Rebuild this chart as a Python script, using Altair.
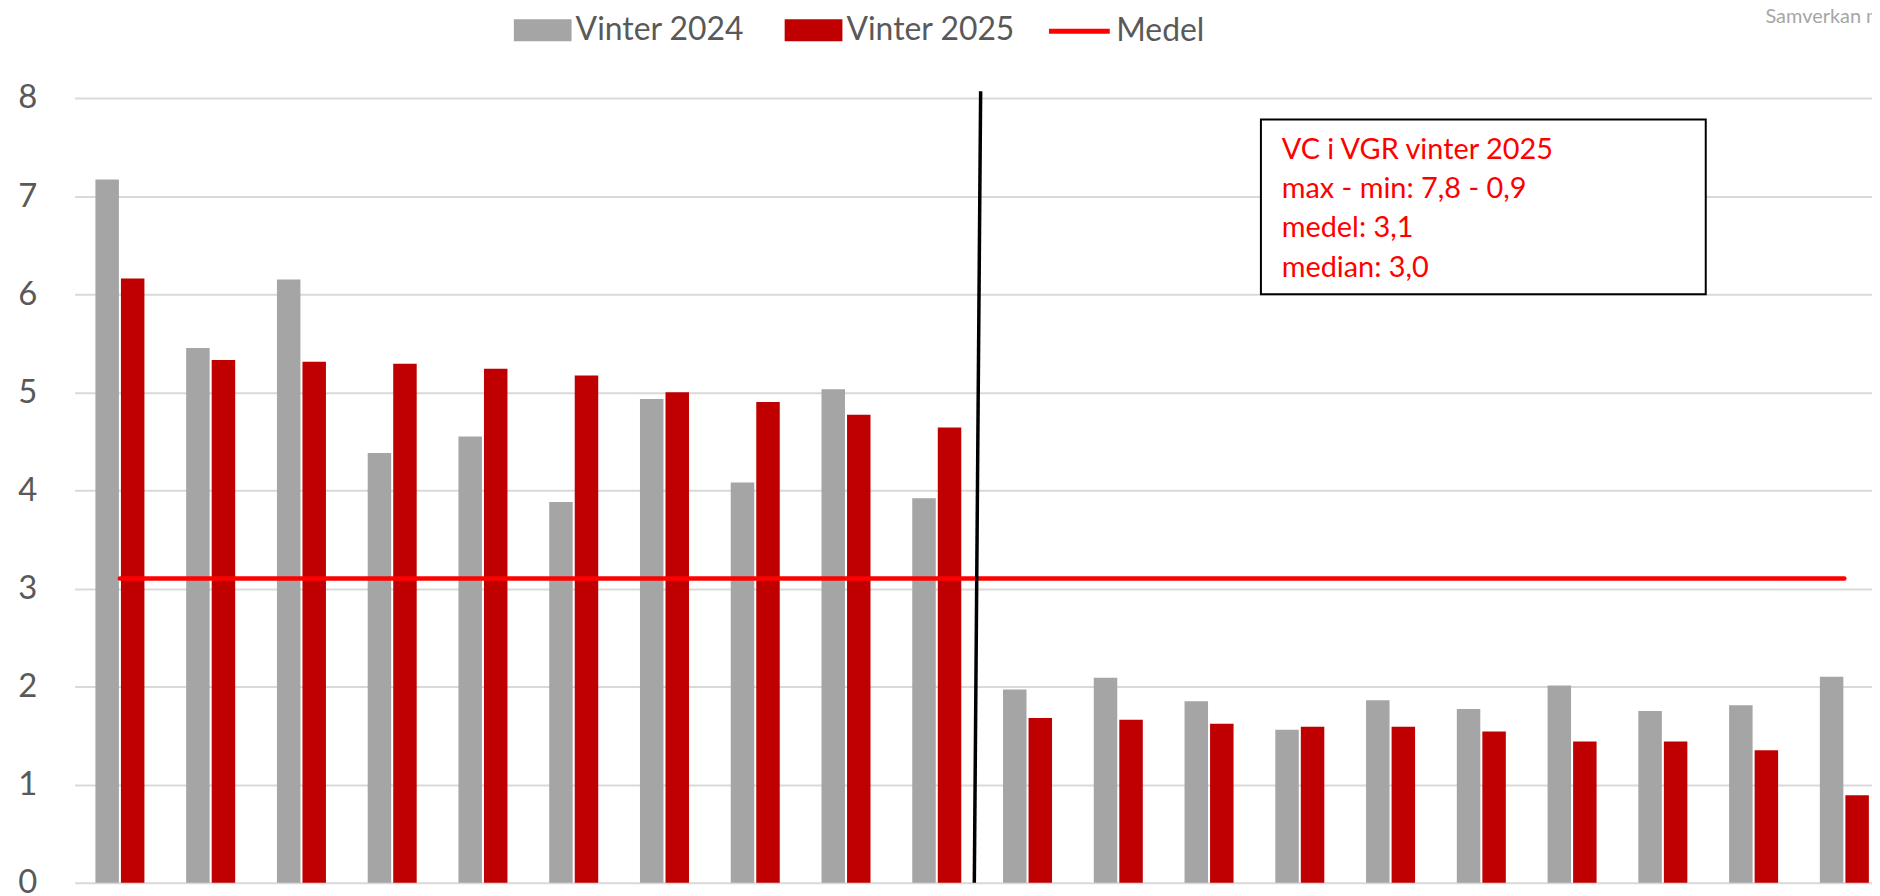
import altair as alt
import pandas as pd

# ---------------- data ----------------
categories = [f"VC {i}" for i in range(1, 21)]
vinter_2024 = [7.17, 5.45, 6.15, 4.38, 4.55, 3.88, 4.93, 4.08, 5.03, 3.92,
               1.97, 2.09, 1.85, 1.56, 1.86, 1.77, 2.01, 1.75, 1.81, 2.10]
vinter_2025 = [6.16, 5.33, 5.31, 5.29, 5.24, 5.17, 5.00, 4.90, 4.77, 4.64,
               1.68, 1.66, 1.62, 1.59, 1.59, 1.54, 1.44, 1.44, 1.35, 0.89]
medel = 3.1
series_names = ["Vinter 2024", "Vinter 2025", "Medel"]
y_ticks = [0, 1, 2, 3, 4, 5, 6, 7, 8]
annotation_lines = ["VC i VGR vinter 2025", "max - min: 7,8 - 0,9",
                    "medel: 3,1", "median: 3,0"]
source_text = "Samverkan m"

# annotation placement (x in 90.8px units from the plot's left edge, y in data units)
divider = {"xb": 9.95, "xt": 10.02, "yb": 0.0, "yt": 8.07}
box = {"x0": 13.12, "x1": 18.04, "y0": 6.0, "y1": 7.78}
box_text = {"x": 13.35, "y": 7.38}
source_pos = {"x": 18.70, "y": 8.76}

# ---------------- styling ----------------
GRAY = "#A5A5A5"
DARKRED = "#C00000"
RED = "#FF0000"
FONT = "Lato"
PLOT_W = 1805
PLOT_H = 788
ANNOT_UNIT = 90.8                # px per annotation x unit
STEP = 91.15                     # width of one category step in px
FIRST_CENTER = 45.4              # px from plot left to first category centre
P_INNER = 0.46
N = len(categories)
P_OUTER = (PLOT_W / STEP - N + P_INNER) / 2
BANDWIDTH = STEP * (1 - P_INNER)
ALIGN = (FIRST_CENTER - BANDWIDTH / 2) / (PLOT_W - STEP * (N - P_INNER))

bars_df = pd.DataFrame({
    "cat": categories * 2,
    "Serie": [series_names[0]] * N + [series_names[1]] * N,
    "value": vinter_2024 + vinter_2025,
})
medel_df = pd.DataFrame({"cat": categories, "Serie": series_names[2], "value": medel})

x_band = alt.Scale(domain=categories, paddingInner=P_INNER, paddingOuter=P_OUTER,
                   align=ALIGN, round=False)
y_scale = alt.Scale(domain=[0, 8], nice=False, zero=True)
y_axis = alt.Axis(values=y_ticks, grid=True, gridColor="#D9D9D9", gridWidth=2,
                  domain=False, ticks=False, labelFont=FONT, labelFontSize=33,
                  labelColor="#595959", labelPadding=38, title=None)

bar_path = "M-1,-0.38H1V0.38H-1Z"

legend_bars = alt.Legend(
    title=None, orient="none", direction="horizontal",
    legendX=441, legendY=-97,
    labelFont=FONT, labelFontSize=32, labelColor="#595959", labelOffset=4,
    labelLimit=500, columnPadding=40, symbolType=bar_path, symbolSize=3364,
    symbolStrokeWidth=0, symbolOpacity=1,
)
legend_line = alt.Legend(
    title=None, orient="none", direction="horizontal",
    legendX=976, legendY=-100,
    labelFont=FONT, labelFontSize=32, labelColor="#595959", labelOffset=4,
    labelLimit=500, symbolType="stroke", symbolSize=3721, symbolStrokeWidth=5,
)

bars = alt.Chart(bars_df).mark_bar().encode(
    x=alt.X("cat:N", scale=x_band, sort=categories, axis=None),
    xOffset=alt.XOffset("Serie:N", sort=series_names[:2],
                        scale=alt.Scale(paddingInner=0.08, paddingOuter=0, round=False)),
    y=alt.Y("value:Q", scale=y_scale, axis=y_axis),
    color=alt.Color("Serie:N", scale=alt.Scale(domain=series_names[:2], range=[GRAY, DARKRED]),
                    legend=legend_bars),
)

medel_line = alt.Chart(medel_df).mark_line(strokeWidth=4.5, strokeCap="round").encode(
    x=alt.X("cat:N", scale=x_band, sort=categories, axis=None),
    y=alt.Y("value:Q", scale=y_scale, axis=y_axis),
    stroke=alt.Stroke("Serie:N", scale=alt.Scale(domain=series_names[2:], range=[RED]),
                      legend=legend_line),
)

xq = alt.Scale(domain=[0, PLOT_W / ANNOT_UNIT], nice=False, zero=False)

divider_rule = alt.Chart(pd.DataFrame([divider])).mark_rule(
    color="black", strokeWidth=3.5).encode(
    x=alt.X("xb:Q", scale=xq, axis=None),
    x2="xt:Q",
    y=alt.Y("yb:Q", scale=y_scale, axis=y_axis),
    y2="yt:Q",
)

box_rect = alt.Chart(pd.DataFrame([box])).mark_rect(
    fill="white", stroke="black", strokeWidth=2).encode(
    x=alt.X("x0:Q", scale=xq, axis=None),
    x2="x1:Q",
    y=alt.Y("y1:Q", scale=y_scale, axis=y_axis),
    y2="y0:Q",
)

box_label = alt.Chart(pd.DataFrame([box_text])).mark_text(
    text=annotation_lines, align="left", baseline="alphabetic",
    font=FONT, fontSize=29, color=RED, lineHeight=39.5).encode(
    x=alt.X("x:Q", scale=xq, axis=None),
    y=alt.Y("y:Q", scale=y_scale, axis=y_axis),
)

source_label = alt.Chart(pd.DataFrame([source_pos])).mark_text(
    text=source_text, align="left", baseline="alphabetic",
    font=FONT, fontSize=20, color="#A6A6A6").encode(
    x=alt.X("x:Q", scale=xq, axis=None),
    y=alt.Y("y:Q", scale=y_scale, axis=y_axis),
)

main = alt.layer(bars, medel_line)
annot = alt.layer(divider_rule, box_rect, box_label, source_label)

chart = alt.layer(main, annot).resolve_scale(x="independent").properties(
    width=PLOT_W, height=PLOT_H,
    padding={"left": 67, "top": 88.5, "right": 0, "bottom": 11},
    autosize=alt.AutoSizeParams(type="none"),
).configure(font=FONT, background="white").configure_view(stroke=None)

chart.save("out.html", embed_options={"renderer": "svg", "actions": False})
